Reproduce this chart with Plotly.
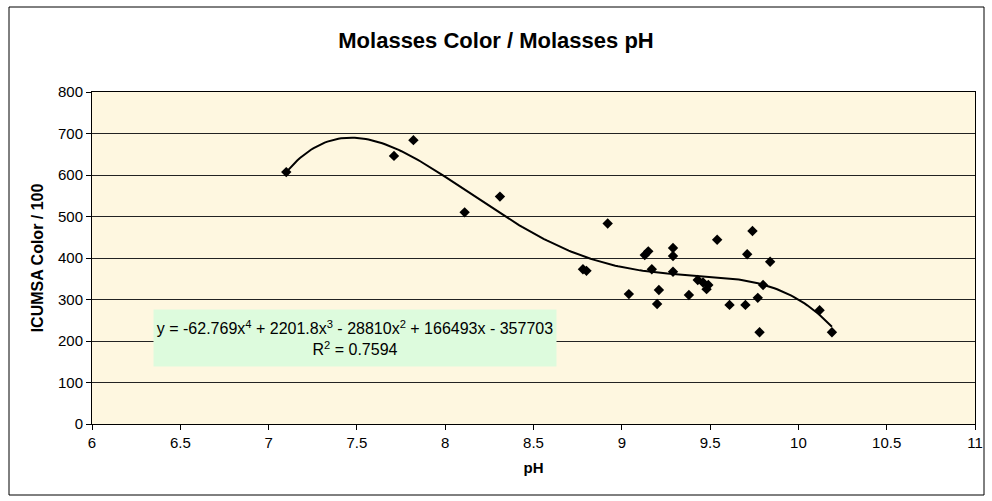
import numpy as np
import plotly.graph_objects as go

ph = [7.10, 7.71, 7.82, 8.11, 8.31, 8.78, 8.80, 8.92, 9.04, 9.13, 9.15, 9.17,
      9.21, 9.20, 9.29, 9.29, 9.29, 9.38, 9.43, 9.46, 9.49, 9.48, 9.54, 9.61,
      9.70, 9.71, 9.74, 9.77, 9.78, 9.80, 9.84, 10.12, 10.19]
color = [607, 646, 684, 510, 548, 373, 369, 483, 313, 407, 416, 373,
         323, 289, 424, 405, 367, 311, 347, 341, 335, 325, 444, 287,
         287, 409, 465, 304, 221, 335, 391, 274, 221]

x_ticks = [6, 6.5, 7, 7.5, 8, 8.5, 9, 9.5, 10, 10.5, 11]
y_ticks = [0, 100, 200, 300, 400, 500, 600, 700, 800]

equation = "y = -62.769x<sup>4</sup> + 2201.8x<sup>3</sup> - 28810x<sup>2</sup> + 166493x - 357703<br>R<sup>2</sup> = 0.7594"

# 4th-order polynomial trendline fitted to the data
coef = np.polyfit(ph, color, 4)
xt = np.linspace(min(ph), max(ph), 200)
yt = np.polyval(coef, xt)

fig = go.Figure()
fig.add_trace(go.Scatter(x=xt, y=yt, mode="lines",
                         line=dict(color="black", width=2), hoverinfo="skip"))
fig.add_trace(go.Scatter(x=ph, y=color, mode="markers",
                         marker=dict(symbol="diamond", size=8, color="black")))

fig.update_layout(
    width=992, height=501,
    margin=dict(l=92, r=17, t=92, b=77),
    paper_bgcolor="white",
    plot_bgcolor="#FEF7E0",
    showlegend=False,
    font=dict(family="Arial, Liberation Sans, sans-serif", size=15, color="black"),
    title=dict(text="<b>Molasses Color / Molasses pH</b>", x=0.5, xanchor="center",
               y=1 - 40 / 501, yanchor="middle", font=dict(size=22)),
    xaxis=dict(range=[6, 11], tickvals=x_ticks, ticktext=[str(t) for t in x_ticks],
               showgrid=False, zeroline=False, showline=True, linecolor="black",
               linewidth=1, mirror=True, ticks="outside", ticklen=5, tickcolor="black",
               tickfont=dict(size=15), automargin=False, ticklabeloverflow="allow",
               title=dict(text="<b>pH</b>", font=dict(size=15), standoff=12)),
    yaxis=dict(range=[0, 800], tickvals=y_ticks, showgrid=True, gridcolor="#222222",
               gridwidth=1, zeroline=False, showline=True, linecolor="black",
               linewidth=1, mirror=True, ticks="outside", ticklen=5, tickcolor="black",
               tickfont=dict(size=15), automargin=False, ticklabeloverflow="allow",
               title=dict(text="<b>ICUMSA Color / 100</b>", font=dict(size=16), standoff=10)),
)

fig.add_annotation(xref="paper", yref="paper", x=(355 - 92) / 883, y=(424 - 338) / 332,
                   text=equation, showarrow=False, align="center",
                   font=dict(size=16), bgcolor="#DDFBDD", width=400, height=54,
                   xanchor="center", yanchor="middle")

fig.add_shape(type="rect", xref="paper", yref="paper",
              x0=(9 - 92) / 883, x1=(984 - 92) / 883,
              y0=(424 - 495) / 332, y1=(424 - 7) / 332,
              line=dict(color="black", width=1), layer="below")

fig.write_html("out.html", config={"displayModeBar": False},
               post_script="document.body.style.margin='0';document.body.style.overflow='hidden';")
